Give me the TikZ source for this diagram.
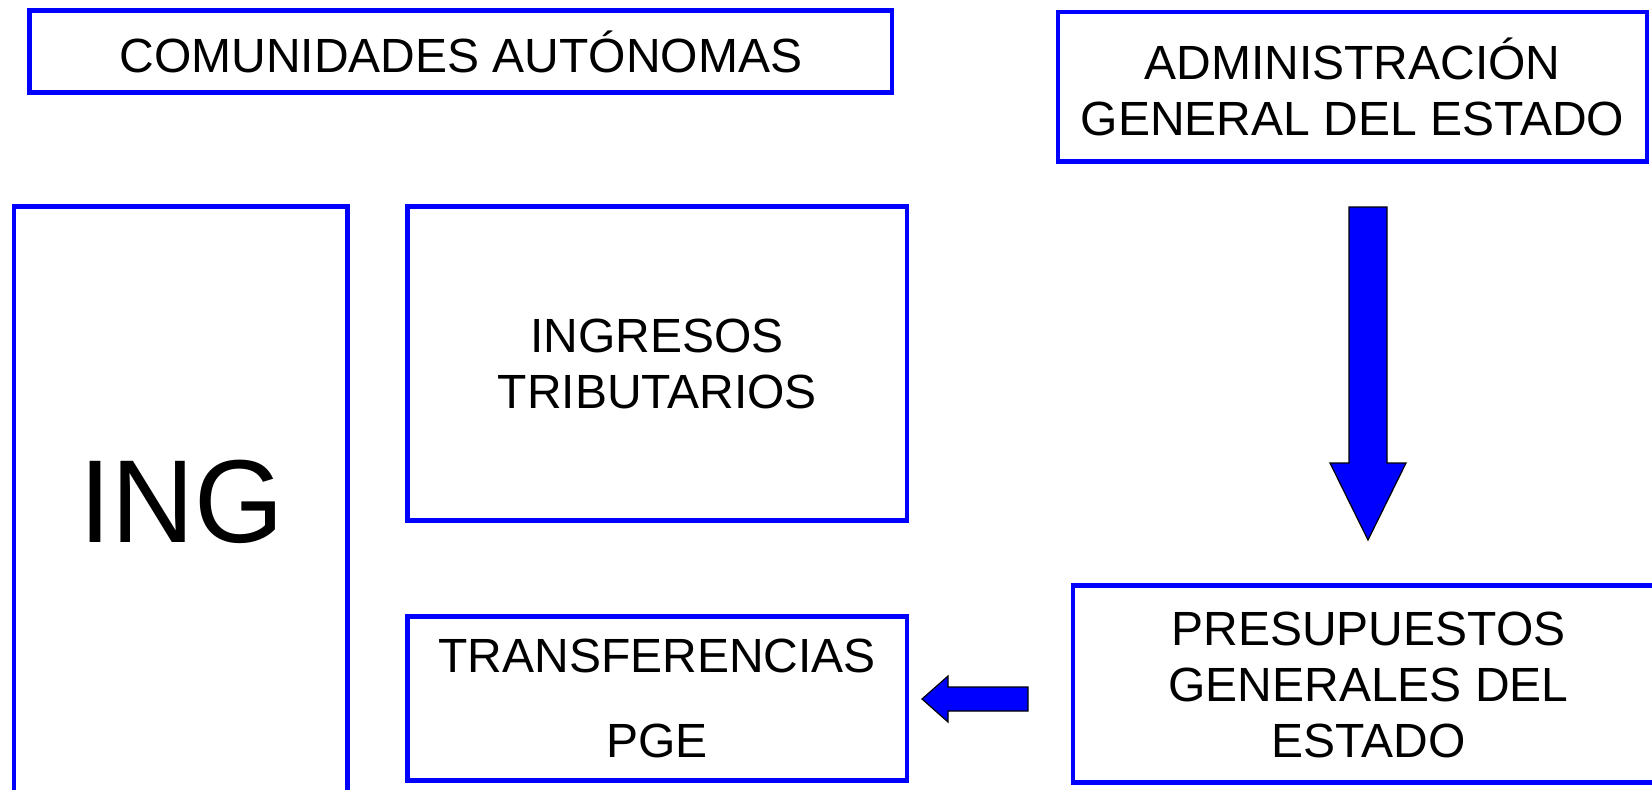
\documentclass[tikz,border=0pt]{standalone}
\usepackage{fontspec}
\setmainfont{Liberation Sans}
\definecolor{boxblue}{RGB}{0,0,255}
\begin{document}
\begin{tikzpicture}[x=0.5pt,y=-0.5pt,
  box/.style={draw=boxblue,line width=2.25pt,rectangle,inner sep=0pt,align=center,
    font=\fontsize{24}{28}\selectfont},
  blockarrow/.style={draw=black,fill=boxblue,line width=0.6pt,line join=miter}]
\useasboundingbox (0,0) rectangle (1652,789);
\clip (0,0) rectangle (1652,789);
% boxes
\node[box,minimum width=431.25pt,minimum height=41pt] (com) at (460.75,51.5) {COMUNIDADES AUTÓNOMAS};
\node[box,minimum width=294.5pt,minimum height=74.75pt] (age) at (1352.5,86.75) {ADMINISTRACIÓN\\GENERAL DEL ESTADO};
\node[box,minimum width=166.75pt,minimum height=350pt] (ing) at (180.75,556.5) {};
\node[font=\fontsize{59}{59}\selectfont,xscale=0.975] (ingtxt) at (181.4,501.5) {ING};
\node[box,minimum width=249.75pt,minimum height=157pt] (trib) at (657.25,363.5) {INGRESOS\\TRIBUTARIOS};
\node[box,minimum width=249.75pt,minimum height=82pt] (trans) at (657.25,698.5) {TRANSFERENCIAS\\[14.5pt]PGE};
\node[box,minimum width=400pt,minimum height=98.5pt] (pge) at (1473,684) {};
\node[font=\fontsize{24}{28}\selectfont,align=center] (pgetxt) at (1368.5,685) {PRESUPUESTOS\\GENERALES DEL\\ESTADO};
% block arrows
\draw[blockarrow] (1349,207) -- (1387,207) -- (1387,463) -- (1406,463) -- (1368,540)
  -- (1330,463) -- (1349,463) -- cycle;
\draw[blockarrow] (1028,687) -- (948,687) -- (948,676) -- (922,699) -- (948,722)
  -- (948,711) -- (1028,711) -- cycle;
\end{tikzpicture}
\end{document}
